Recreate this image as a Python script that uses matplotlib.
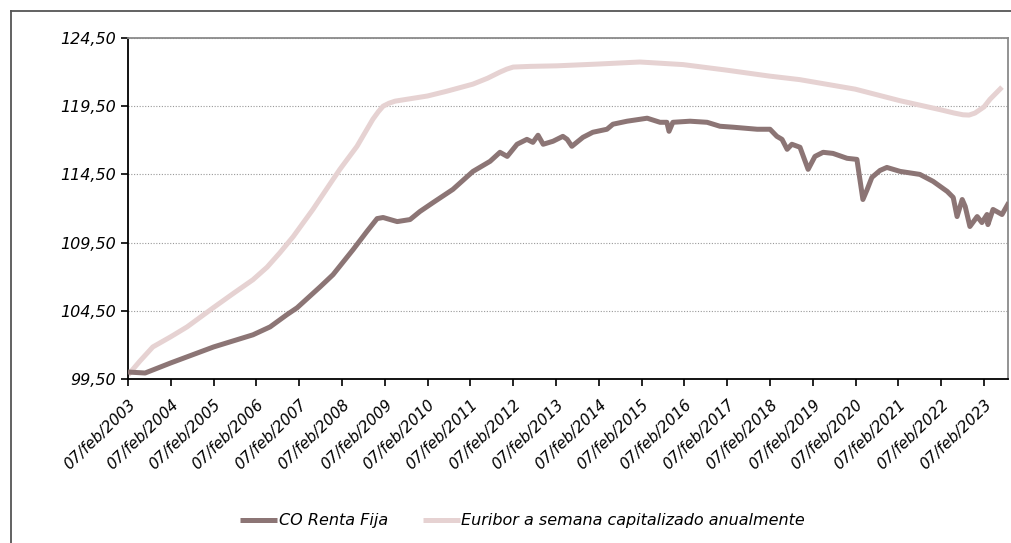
import matplotlib.pyplot as plt
from matplotlib.lines import Line2D

# data (x = years, tick at 07/feb of each year)
co_years = [2003.00, 2003.40, 2004.00, 2005.00, 2005.92, 2006.32, 2006.71, 2006.95, 2007.49, 2007.79,
            2008.26, 2008.58, 2008.82, 2008.96, 2009.29, 2009.59, 2009.82, 2010.13, 2010.59, 2011.06,
            2011.46, 2011.69, 2011.86, 2012.09, 2012.32, 2012.46, 2012.58, 2012.70, 2012.93, 2013.16,
            2013.26, 2013.37, 2013.63, 2013.86, 2014.19, 2014.33, 2014.66, 2015.13, 2015.43, 2015.59,
            2015.64, 2015.73, 2016.13, 2016.53, 2016.83, 2017.14, 2017.70, 2018.00, 2018.16, 2018.28,
            2018.40, 2018.51, 2018.70, 2018.89, 2019.05, 2019.24, 2019.47, 2019.80, 2020.03, 2020.10,
            2020.17, 2020.27, 2020.38, 2020.57, 2020.73, 2021.04, 2021.50, 2021.81, 2022.14, 2022.28,
            2022.37, 2022.49, 2022.56, 2022.67, 2022.84, 2022.95, 2023.07, 2023.09, 2023.21, 2023.42,
            2023.58]
co_values = [100.01, 99.94, 100.68, 101.85, 102.74, 103.32, 104.21, 104.72, 106.26, 107.15,
             108.99, 110.31, 111.26, 111.34, 111.04, 111.19, 111.78, 112.44, 113.40, 114.72,
             115.46, 116.12, 115.82, 116.71, 117.07, 116.85, 117.37, 116.71, 116.93, 117.29,
             117.07, 116.56, 117.22, 117.59, 117.81, 118.18, 118.40, 118.62, 118.32, 118.32,
             117.66, 118.32, 118.40, 118.32, 118.03, 117.96, 117.81, 117.81, 117.29, 117.07,
             116.34, 116.71, 116.49, 114.87, 115.82, 116.12, 116.04, 115.68, 115.60, 114.13,
             112.66, 113.40, 114.28, 114.79, 115.01, 114.72, 114.50, 113.99, 113.25, 112.81,
             111.41, 112.66, 112.15, 110.68, 111.41, 110.97, 111.56, 110.82, 111.93, 111.56,
             112.44]

eur_years = [2003.00, 2003.28, 2003.58, 2004.00, 2004.38, 2004.99, 2005.45, 2005.92, 2006.25, 2006.55,
             2006.86, 2007.32, 2007.79, 2007.95, 2008.35, 2008.72, 2008.85, 2008.96, 2009.10, 2009.24,
             2009.52, 2010.00, 2010.45, 2011.06, 2011.40, 2011.69, 2011.85, 2012.00, 2012.40, 2013.02,
             2013.98, 2014.96, 2015.97, 2016.97, 2017.98, 2018.69, 2019.99, 2021.04, 2021.97, 2022.30,
             2022.51, 2022.65, 2022.79, 2023.00, 2023.14, 2023.42]
eur_values = [99.79, 100.82, 101.85, 102.60, 103.32, 104.72, 105.75, 106.78, 107.70, 108.76,
              109.94, 111.93, 114.13, 114.87, 116.56, 118.54, 119.10, 119.50, 119.72, 119.87,
              120.01, 120.25, 120.60, 121.12, 121.55, 122.00, 122.22, 122.37, 122.42, 122.46,
              122.59, 122.74, 122.55, 122.15, 121.71, 121.45, 120.75, 119.90, 119.25, 119.00,
              118.87, 118.85, 119.00, 119.45, 120.01, 120.90]

x_ticks = list(range(2003, 2024))
x_labels = ['07/feb/%d' % y for y in x_ticks]
y_ticks = [99.5, 104.5, 109.5, 114.5, 119.5, 124.5]

plt.rcParams['font.family'] = ['DejaVu Sans']

fig = plt.figure(figsize=(10.11, 5.43), dpi=100)
ax = fig.add_axes([128 / 1011, 1 - 379 / 543, 880 / 1011, 341 / 543])

dark, = ax.plot(co_years, co_values, color='#8c7575', lw=3.6, solid_capstyle='butt', zorder=3)
light, = ax.plot(eur_years, eur_values, color='#e6d2d2', lw=3.6, solid_capstyle='butt', zorder=2)

ax.set_xlim(2003, 2023.56)
ax.set_ylim(99.5, 124.5)
ax.set_yticks(y_ticks)
ax.set_yticklabels([('%.2f' % v).replace('.', ',') for v in y_ticks], fontsize=11.5, style='italic')
ax.set_xticks(x_ticks)
ax.set_xticklabels(x_labels, fontsize=11, style='italic', rotation=44, ha='right', va='top',
                   rotation_mode='anchor')
ax.tick_params(axis='both', direction='out', length=5, width=1.2, color='black')
ax.tick_params(axis='x', pad=8)
ax.tick_params(axis='y', pad=4)

ax.grid(axis='y', color='#999999', lw=0.8, linestyle=(0, (1, 1.5)))
ax.set_axisbelow(True)
for s in ['left', 'bottom']:
    ax.spines[s].set_color('black')
    ax.spines[s].set_linewidth(1.3)
for s in ['top', 'right']:
    ax.spines[s].set_color('#8a8a8a')
    ax.spines[s].set_linewidth(1.3)

fig.legend([dark, light], ['CO Renta Fija', 'Euribor a semana capitalizado anualmente'],
           loc='center', bbox_to_anchor=(0.517, 1 - 521 / 543), ncol=2, frameon=False,
           prop={'size': 11.5, 'style': 'italic'}, handlelength=2.3, handletextpad=0.1,
           columnspacing=2.2)

# outer frame (cut off on the right and bottom)
fig.add_artist(Line2D([11 / 1011, 1], [1 - 11 / 543, 1 - 11 / 543], color='#555555', lw=1.3,
                      transform=fig.transFigure))
fig.add_artist(Line2D([11 / 1011, 11 / 1011], [0, 1 - 11 / 543], color='#555555', lw=1.3,
                      transform=fig.transFigure))

fig.savefig('out.png', dpi=100)
